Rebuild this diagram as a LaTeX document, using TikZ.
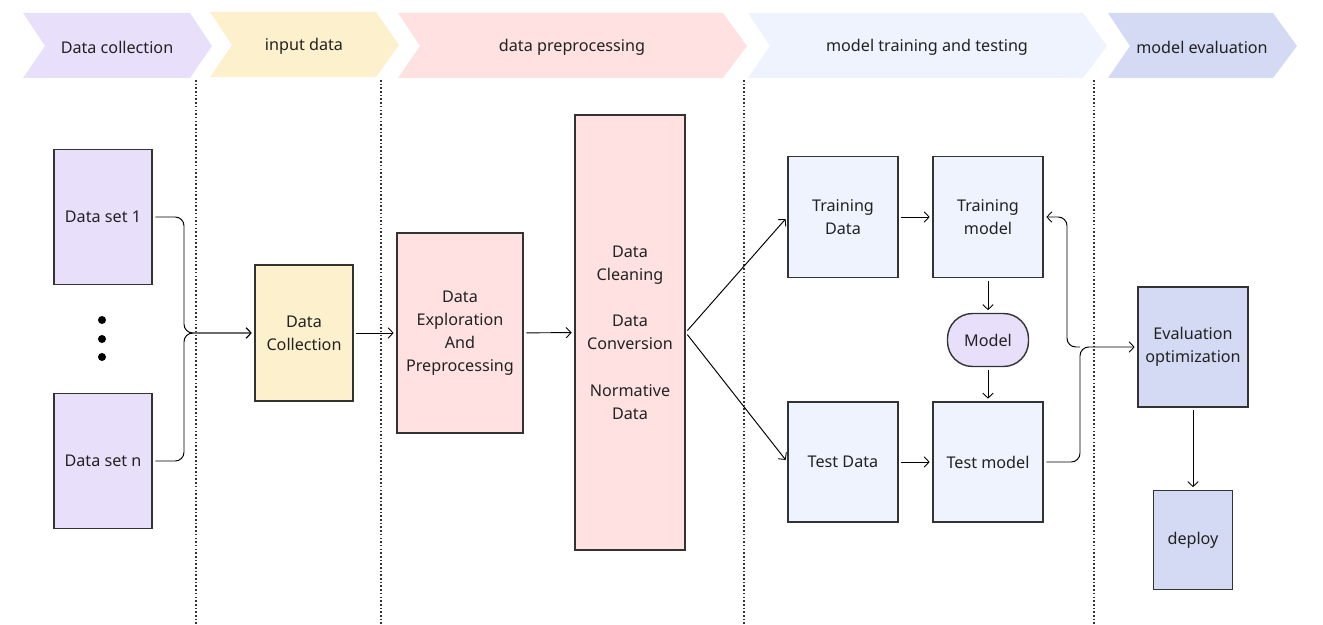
\documentclass[tikz,border=0pt]{standalone}
\usepackage{fontspec}
\setmainfont{Noto Sans}
\usetikzlibrary{arrows.meta}
\definecolor{lilac}{HTML}{E8E0FB}
\definecolor{cream}{HTML}{FDF0CD}
\definecolor{blush}{HTML}{FFE1E1}
\definecolor{mist}{HTML}{EEF3FD}
\definecolor{periwinkle}{HTML}{D5DAF4}
\definecolor{edge}{HTML}{333333}
\definecolor{ink}{HTML}{222222}
\tikzset{
  stagebox/.style={draw=edge, line width=0.8pt, align=center, inner sep=0pt,
    font=\fontsize{9.2}{13.2}\selectfont, text=ink},
  conn/.style={-{Straight Barb[length=1mm,width=2.1mm,line width=0.5pt]}, line width=0.55pt,
    shorten <=1.5pt, shorten >=1.5pt},
  divider/.style={line width=0.8pt, edge, dash pattern=on 0.9pt off 1.2pt},
  banner/.style={font=\fontsize{9.2}{11}\selectfont, text=ink}
}
\begin{document}
\begin{tikzpicture}[x=0.02cm, y=-0.02cm]
  \useasboundingbox (0,0) rectangle (1323,625);
  % stage banners
  \fill[lilac] (23,13) -- (190,13) -- (212,46) -- (190,78) -- (23,78) -- (45,46) -- cycle;
  \fill[cream] (210,12) -- (376,12) -- (399,45) -- (376,77) -- (210,77) -- (232,45) -- cycle;
  \fill[blush] (398,13) -- (723,13) -- (747,46) -- (723,78) -- (398,78) -- (420,46) -- cycle;
  \fill[mist] (748,13) -- (1083,13) -- (1107,46) -- (1083,78) -- (748,78) -- (770,46) -- cycle;
  \fill[periwinkle] (1108,13) -- (1273,13) -- (1297,46) -- (1273,78) -- (1108,78) -- (1130,46) -- cycle;
  \node[banner] (st1) at (117,47) {Data collection};
  \node[banner] (st2) at (304,46) {input data};
  \node[banner] (st3) at (572,47) {data preprocessing};
  \node[banner] (st4) at (927,47) {model training and testing};
  \node[banner] (st5) at (1202,47) {model evaluation};
  % dividers
  \foreach \xd in {196,381,744,1094}
    \draw[divider] (\xd,80) -- (\xd,625);
  % data sets
  \node[stagebox, fill=lilac, minimum width=1.96cm, minimum height=2.7cm] (ds1) at (103,217) {Data set 1};
  \node[stagebox, fill=lilac, minimum width=1.96cm, minimum height=2.7cm] (dsn) at (103,461) {Data set n};
  \foreach \yd in {320,339,357}
    \fill (102,\yd) circle (4);
  \node[stagebox, fill=cream, minimum width=1.96cm, minimum height=2.72cm] (dcol) at (304,333) {Data\\Collection};
  \node[stagebox, fill=blush, minimum width=2.52cm, minimum height=4cm] (dexp) at (460,333) {Data\\Exploration\\And\\Preprocessing};
  \node[stagebox, fill=blush, minimum width=2.2cm, minimum height=8.7cm] (dclean) at (630,332.5) {Data\\Cleaning\\ \\Data\\Conversion\\ \\Normative\\Data};
  % training and testing
  \node[stagebox, fill=mist, minimum width=2.2cm, minimum height=2.42cm] (trd) at (843,217) {Training\\Data};
  \node[stagebox, fill=mist, minimum width=2.2cm, minimum height=2.42cm] (trm) at (988,217) {Training\\model};
  \node[stagebox, fill=mist, minimum width=2.2cm, minimum height=2.4cm] (ted) at (843,462) {Test Data};
  \node[stagebox, fill=mist, minimum width=2.2cm, minimum height=2.4cm] (tem) at (988,462) {Test model};
  \node[stagebox, fill=lilac, minimum width=1.62cm, minimum height=1.06cm, rounded corners=0.5cm] (mdl) at (988,340) {Model};
  % evaluation
  \node[stagebox, fill=periwinkle, minimum width=2.2cm, minimum height=2.4cm] (evo) at (1193,347) {Evaluation\\optimization};
  \node[stagebox, fill=periwinkle, minimum width=1.58cm, minimum height=1.98cm] (dep) at (1193,540) {deploy};
  % connectors
  \coordinate (merge) at (184,333);
  \coordinate (fork) at (1080,347);
  \coordinate (back) at (1067,347);
  \draw[conn, rounded corners=5] (ds1.east) -| (merge) -- (dcol.west);
  \draw[conn, rounded corners=5] (dsn.east) -| (merge) -- (dcol.west);
  \draw[conn] (dcol) -- (dexp);
  \draw[conn] (dexp) -- (dclean);
  \draw[conn] (dclean.east) -- (trd.west);
  \draw[conn] (dclean.east) -- (ted.west);
  \draw[conn] (trd) -- (trm);
  \draw[conn] (ted) -- (tem);
  \draw[conn] (trm) -- (mdl);
  \draw[conn] (mdl) -- (tem);
  \draw[conn, rounded corners=5] (tem.east) -| (fork) -- (evo.west);
  \draw[conn, rounded corners=5, shorten <=0pt] (fork) -- (back) |- (trm.east);
  \draw[conn] (evo) -- (dep);
\end{tikzpicture}
\end{document}
